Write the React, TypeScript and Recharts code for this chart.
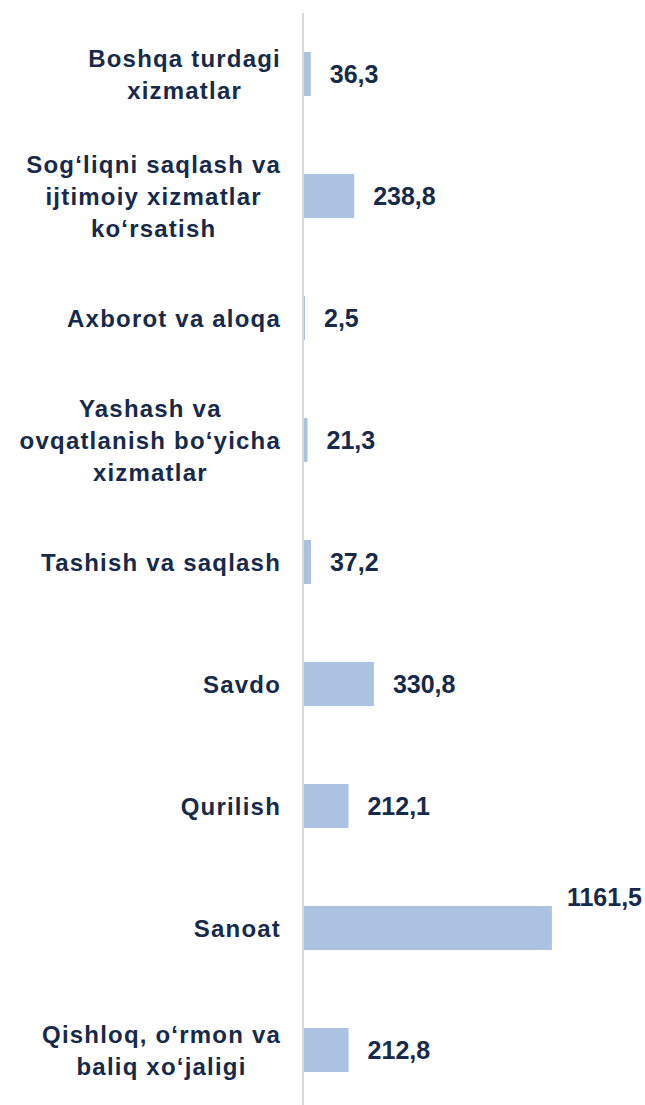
import { Bar, BarChart, LabelList, XAxis, YAxis } from "recharts";

const categories = [
  "Boshqa turdagi\nxizmatlar",
  "Sog‘liqni saqlash va\nijtimoiy xizmatlar\nko‘rsatish",
  "Axborot va aloqa",
  "Yashash va\novqatlanish bo‘yicha\nxizmatlar",
  "Tashish va saqlash",
  "Savdo",
  "Qurilish",
  "Sanoat",
  "Qishloq, o‘rmon va\nbaliq xo‘jaligi",
];

const values = [36.3, 238.8, 2.5, 21.3, 37.2, 330.8, 212.1, 1161.5, 212.8];

const data = categories.map((name, i) => ({ name, value: values[i] }));

const TEXT = "#172a4a";
const FONT = "'Liberation Sans', Arial, sans-serif";
const FONT_SIZE = 24;
const VALUE_SIZE = 25;
const SPACING = 1.2;
const LINE_H = 32;
const LABEL_RIGHT = 273;

let ctx: CanvasRenderingContext2D | null = null;
function textWidth(s: string) {
  if (!ctx) ctx = document.createElement("canvas").getContext("2d");
  if (!ctx) return s.length * 13;
  ctx.font = `bold ${FONT_SIZE}px ${FONT}`;
  return ctx.measureText(s).width + s.length * SPACING;
}

function CategoryTick(props: any) {
  const { y, payload } = props;
  const lines: string[] = String(payload.value).split("\n");
  const maxW = Math.max(...lines.map(textWidth));
  const cx = LABEL_RIGHT - maxW / 2;
  const y0 = y - ((lines.length - 1) * LINE_H) / 2 + 1;
  return (
    <text
      textAnchor="middle"
      fill={TEXT}
      fontFamily={FONT}
      fontWeight="bold"
      fontSize={FONT_SIZE}
      letterSpacing={SPACING}
    >
      {lines.map((line, i) => (
        <tspan key={i} x={cx} y={y0 + i * LINE_H} dy="0.35em">
          {line}
        </tspan>
      ))}
    </text>
  );
}

const maxIndex = values.indexOf(Math.max(...values));

function ValueLabel(props: any) {
  const { x, y, width, height, value, index } = props;
  const raised = index === maxIndex;
  const lx = x + width + (raised ? 15 : 19);
  const ly = y + height / 2 - (raised ? 31 : 0);
  return (
    <text
      x={lx}
      y={ly}
      dy="0.35em"
      fill={TEXT}
      fontFamily={FONT}
      fontWeight="bold"
      fontSize={VALUE_SIZE}
    >
      {Number(value).toFixed(1).replace(".", ",")}
    </text>
  );
}

export default function App() {
  return (
    <div
      style={{
        width: 645,
        height: 1105,
        overflow: "hidden",
        boxSizing: "border-box",
        padding: "8px 0 0 8px",
      }}
    >
      <style>{"html, body { margin: 0; overflow: hidden; }"}</style>
      <BarChart
        width={637}
        height={1103}
        data={data}
        layout="vertical"
        margin={{ top: 5, right: 42, bottom: 0, left: 0 }}
      >
        <XAxis type="number" domain={[0, 1400]} hide />
        <YAxis
          type="category"
          dataKey="name"
          width={295}
          interval={0}
          axisLine={{ stroke: "#d9d9d9", strokeWidth: 2 }}
          tickLine={false}
          tick={<CategoryTick />}
        />
        <Bar
          dataKey="value"
          fill="#abc2e0"
          barSize={44}
          minPointSize={2}
          isAnimationActive={false}
        >
          <LabelList dataKey="value" content={<ValueLabel />} />
        </Bar>
      </BarChart>
    </div>
  );
}
